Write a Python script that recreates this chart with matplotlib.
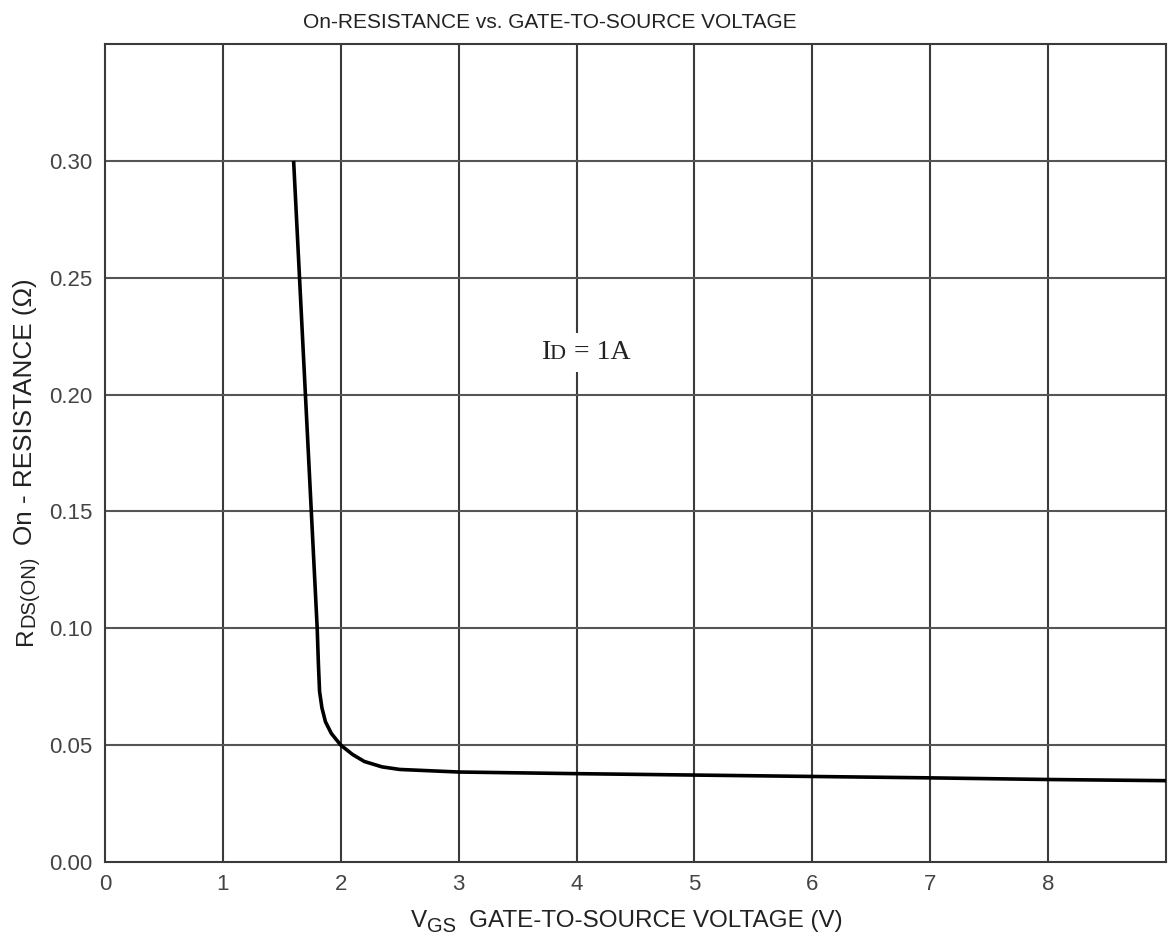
import matplotlib
matplotlib.use('Agg')
import matplotlib.pyplot as plt

# curve
vgs = [1.60, 1.65, 1.70, 1.75, 1.80, 1.81, 1.82, 1.84, 1.87, 1.92, 2.00, 2.10,
       2.20, 2.35, 2.50, 3.0, 4.0, 5.0, 6.0, 7.0, 8.0, 9.0]
rds = [0.300, 0.250, 0.200, 0.150, 0.100, 0.085, 0.073, 0.066, 0.060, 0.055,
       0.050, 0.046, 0.043, 0.0407, 0.0396, 0.0385, 0.0378, 0.0372, 0.0366,
       0.0360, 0.0353, 0.0348]

x_ticks = [0, 1, 2, 3, 4, 5, 6, 7, 8]
y_ticks = [0.00, 0.05, 0.10, 0.15, 0.20, 0.25, 0.30]
y_labels = ['0.00', '0.05', '0.10', '0.15', '0.20', '0.25', '0.30']

plt.rcParams['font.family'] = ['Liberation Sans', 'DejaVu Sans']

W, H = 1174, 940
fig = plt.figure(figsize=(W / 100, H / 100), dpi=100)
ax = fig.add_axes([105 / W, 78 / H, 1061 / W, 818 / H])

grid_c = '#3a3a3a'
for v in range(1, 9):
    ax.axvline(v, color=grid_c, lw=1.5, zorder=1)
for v in [0.05, 0.10, 0.15, 0.20, 0.25, 0.30]:
    ax.axhline(v, color='#555555', lw=1.5, zorder=1)

ax.plot(vgs, rds, color='black', lw=2.6, zorder=3, solid_capstyle='butt')

ax.set_xlim(0, 9)
ax.set_ylim(0, 0.35)
ax.set_xticks(x_ticks)
ax.set_yticks(y_ticks)
ax.set_yticklabels(y_labels)
ax.tick_params(length=0, labelsize=16, labelcolor='#444444')
ax.tick_params(axis='y', pad=9)
ax.tick_params(axis='x', pad=9)
for s in ax.spines.values():
    s.set_color(grid_c)
    s.set_linewidth(1.5)

txt_c = '#222222'


def px(x, y):
    # pixel position (from top-left) -> figure fraction
    return x / W, 1 - y / H


# annotation I_D = 1A
tx, ty = 3.71, 0.2154
ax.text(tx, ty, 'I', fontsize=20, family='Liberation Serif', va='baseline', ha='left',
        color=txt_c, zorder=5)
ax.text(tx + 0.062, ty, 'D', fontsize=16, family='Liberation Serif', va='baseline',
        ha='left', color=txt_c, zorder=5)
ax.text(tx + 0.27, ty, '= 1A', fontsize=20, family='Liberation Serif', va='baseline',
        ha='left', color=txt_c, zorder=5,
        bbox=dict(facecolor='white', edgecolor='none', pad=5))

# x label: V with GS subscript
fig.text(*px(411, 927), 'V', fontsize=17.5, ha='left', va='baseline', color=txt_c)
fig.text(*px(427, 932), 'GS', fontsize=14.5, ha='left', va='baseline', color=txt_c)
fig.text(*px(469, 927), 'GATE-TO-SOURCE VOLTAGE (V)', fontsize=17.5, ha='left',
         va='baseline', color=txt_c)

# y label: R with DS(ON) subscript, rotated
rot = dict(rotation=90, rotation_mode='anchor', ha='left', va='baseline', color=txt_c)
fig.text(*px(32, 645), 'R', fontsize=17.5, **rot)
fig.text(*px(34, 627), 'DS(ON)', fontsize=14.5, **rot)
fig.text(*px(32, 545), 'On - RESISTANCE (Ω)', fontsize=18.8, **rot)

fig.text(*px(550, 28), 'On-RESISTANCE vs. GATE-TO-SOURCE VOLTAGE',
         ha='center', va='baseline', fontsize=15, color=txt_c)

fig.savefig('out.png', dpi=100, facecolor='white')
